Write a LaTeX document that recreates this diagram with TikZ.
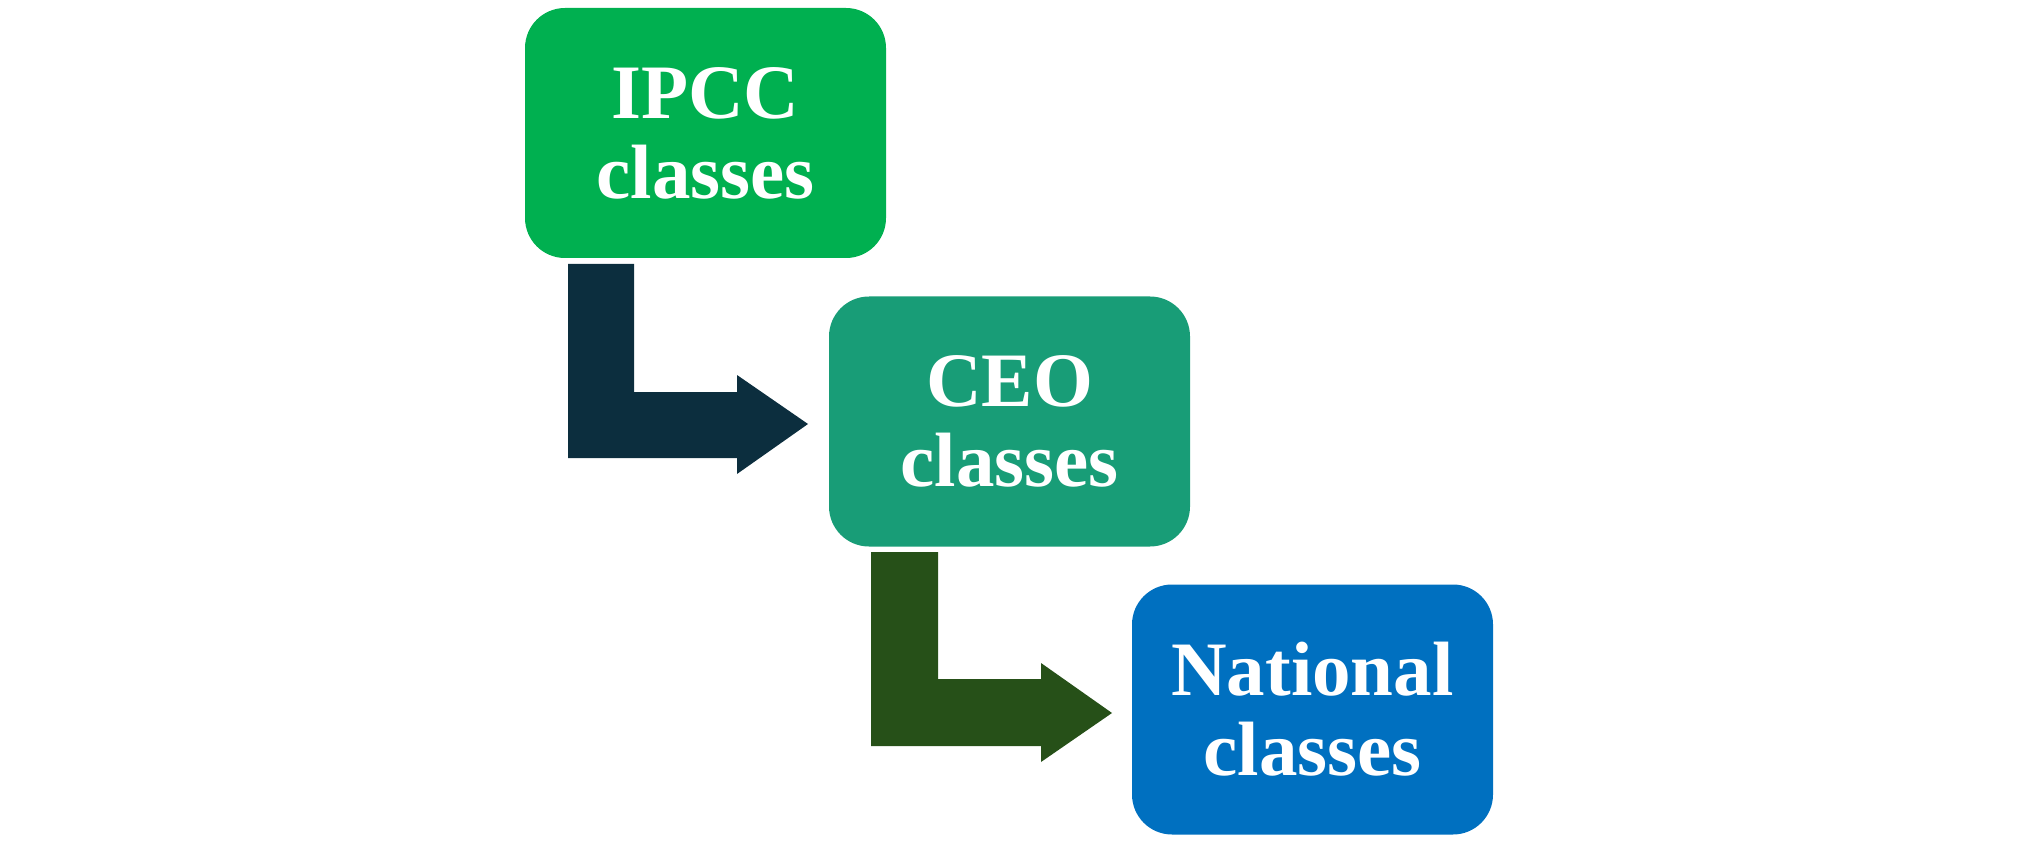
\documentclass[tikz,border=0pt]{standalone}
\usepackage{fontspec}
\setmainfont{Liberation Serif}
\definecolor{cA}{RGB}{0,176,80}
\definecolor{cB}{RGB}{24,157,119}
\definecolor{cC}{RGB}{0,112,192}
\definecolor{arrA}{RGB}{12,46,62}
\definecolor{arrB}{RGB}{38,80,24}
\tikzset{
  classbox/.style={draw=none, rounded corners=40pt, minimum width=361pt, minimum height=250pt,
    inner sep=0pt, align=center, text=white,
    font=\fontsize{77pt}{80pt}\selectfont\bfseries},
  bentarrow/.style={draw=none}
}
\begin{document}
\begin{tikzpicture}[x=1pt,y=-1pt]
\useasboundingbox (0,0) rectangle (2018,842);
\node[classbox, fill=cA] (ipcc) at (705.5,133) {IPCC\\classes};
\node[classbox, fill=cB] (ceo) at (1009.5,421.5) {CEO\\classes};
\node[classbox, fill=cC] (nat) at (1312.5,709.5) {National\\classes};
% arrow 1
\coordinate (a1s) at (568,264);
\coordinate (a1t) at (808,424);
\fill[arrA] (a1s) -- (634,264) -- (634,392) -- (737,392) -- (737,375) -- (a1t) -- (737,474) -- (737,458) -- (568,458) -- cycle;
% arrow 2
\coordinate (a2s) at (871,552);
\coordinate (a2t) at (1112,713);
\fill[arrB] (a2s) -- (938,552) -- (938,679) -- (1041,679) -- (1041,663) -- (a2t) -- (1041,762) -- (1041,746) -- (871,746) -- cycle;
\end{tikzpicture}
\end{document}
